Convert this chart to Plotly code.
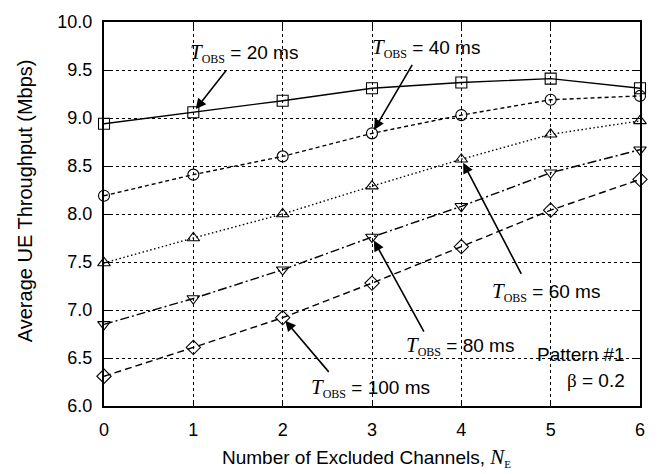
import plotly.graph_objects as go

# Number of excluded channels
n_excluded = [0, 1, 2, 3, 4, 5, 6]

# Average UE throughput (Mbps) for each observation period
thr_20ms = [8.94, 9.06, 9.18, 9.31, 9.37, 9.41, 9.31]
thr_40ms = [8.19, 8.41, 8.60, 8.84, 9.03, 9.19, 9.23]
thr_60ms = [7.49, 7.75, 8.00, 8.29, 8.57, 8.83, 8.97]
thr_80ms = [6.85, 7.12, 7.42, 7.76, 8.08, 8.43, 8.67]
thr_100ms = [6.31, 6.61, 6.92, 7.28, 7.66, 8.04, 8.36]

y_ticks = [6.0, 6.5, 7.0, 7.5, 8.0, 8.5, 9.0, 9.5, 10.0]

SANS = "Liberation Sans, Arial, sans-serif"
SERIF = "Liberation Serif, Times New Roman, serif"

series = [
    (thr_20ms, "square-open", "solid", "20 ms"),
    (thr_40ms, "circle-open", "4px,3px", "40 ms"),
    (thr_60ms, "triangle-up-open", "1.5px,2.5px", "60 ms"),
    (thr_80ms, "triangle-down-open", "9px,3px,2px,3px", "80 ms"),
    (thr_100ms, "diamond-open", "7px,4px", "100 ms"),
]

fig = go.Figure()
for values, symbol, dash, name in series:
    fig.add_trace(go.Scatter(
        x=n_excluded, y=values, mode="lines+markers", name=name,
        line=dict(color="black", width=1.4, dash=dash),
        marker=dict(symbol=symbol, size=11, color="black",
                    line=dict(color="black", width=1.1)),
        cliponaxis=False, showlegend=False,
    ))


def t_obs(label):
    return (f"<span style='font-family:{SERIF};font-style:italic;font-size:21px'>T</span>"
            f"<sub><span style='font-family:{SERIF};font-size:12px'>OBS</span></sub>"
            f" = {label}")


# (label, arrow head point, arrow tail, text centre)
callouts = [
    ("20 ms", (1, thr_20ms[1]), (1.38, 9.51), (1.57, 9.68)),
    ("40 ms", (3, thr_40ms[3]), (3.46, 9.57), (3.60, 9.73)),
    ("60 ms", (4, thr_60ms[4]), (4.68, 7.36), (4.95, 7.19)),
    ("80 ms", (3, thr_80ms[3]), (3.59, 6.76), (3.99, 6.62)),
    ("100 ms", (2, thr_100ms[2]), (2.53, 6.34), (2.98, 6.19)),
]

for label, head, tail, centre in callouts:
    fig.add_annotation(
        x=head[0], y=head[1], ax=tail[0], ay=tail[1],
        xref="x", yref="y", axref="x", ayref="y",
        text="", showarrow=True, arrowhead=2, arrowsize=1.3,
        arrowwidth=1.6, arrowcolor="black", standoff=4,
    )
    fig.add_annotation(
        x=centre[0], y=centre[1], xref="x", yref="y",
        text=t_obs(label), showarrow=False,
        font=dict(family=SANS, size=19, color="black"),
    )

fig.add_annotation(x=5.86, y=6.54, xref="x", yref="y", xanchor="right",
                   text="Pattern #1", showarrow=False,
                   font=dict(family=SANS, size=19, color="black"))
fig.add_annotation(x=5.86, y=6.27, xref="x", yref="y", xanchor="right",
                   text=f"<span style='font-family:{SERIF}'>β</span> = 0.2",
                   showarrow=False,
                   font=dict(family=SANS, size=19, color="black"))

# Axis titles
fig.add_annotation(
    x=0.489, y=-0.133, xref="paper", yref="paper",
    xanchor="center", yanchor="middle", showarrow=False,
    text=("Number of Excluded Channels, "
          f"<span style='font-family:{SERIF};font-style:italic;font-size:21px'>N</span>"
          f"<sub><span style='font-family:{SERIF};font-size:11px'>E</span></sub>"),
    font=dict(family=SANS, size=19, color="black"),
)
fig.add_annotation(
    x=-0.148, y=0.535, xref="paper", yref="paper",
    xanchor="center", yanchor="middle", showarrow=False, textangle=-90,
    text="Average UE Throughput (Mbps)",
    font=dict(family=SANS, size=20, color="black"),
)

axis_common = dict(
    showline=True, linecolor="black", linewidth=2, mirror="ticks",
    ticks="inside", ticklen=6, tickwidth=1, tickcolor="black",
    showgrid=True, gridcolor="black", gridwidth=1, griddash="dot",
    zeroline=False, ticklabelstandoff=6,
    tickfont=dict(family=SANS, size=18, color="black"),
)

fig.update_xaxes(
    range=[0, 6], tickvals=n_excluded, ticktext=[str(v) for v in n_excluded],
    **axis_common,
)
fig.update_yaxes(
    range=[6, 10], tickvals=y_ticks, ticktext=[f"{v:.1f}" for v in y_ticks],
    **axis_common,
)

fig.update_layout(
    width=661, height=474,
    margin=dict(l=104, r=21, t=15, b=68),
    paper_bgcolor="white", plot_bgcolor="white",
)

fig.write_html("out.html")
